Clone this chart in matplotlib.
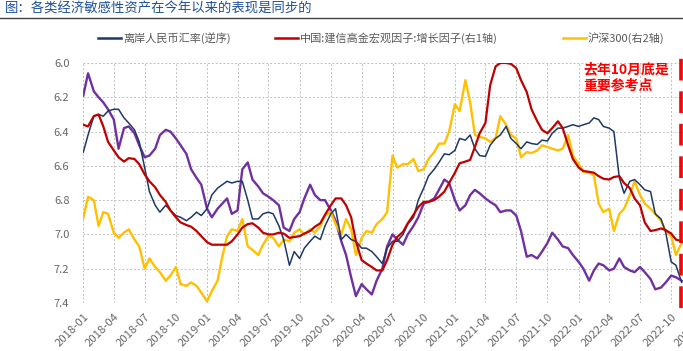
import numpy as np
import pandas as pd
import matplotlib
matplotlib.use("Agg")
import matplotlib.pyplot as plt
import matplotlib.dates as mdates
from matplotlib.lines import Line2D
from matplotlib.ticker import FormatStrFormatter

plt.rcParams["font.family"] = ["Noto Sans CJK SC", "DejaVu Sans"]

TITLE = "图：各类经济敏感性资产在今年以来的表现是同步的"
LABELS = ["离岸人民币汇率(逆序)", "中国:建信高金宏观因子:增长因子(右1轴)", "沪深300(右2轴)"]
NOTE = "去年10月底是\n重要参考点"

# values, half-monthly, in left-axis units
cnh = [6.52, 6.42, 6.31, 6.30, 6.31, 6.28, 6.27, 6.27, 6.32, 6.35, 6.39, 6.46,
       6.61, 6.75, 6.83, 6.87, 6.83, 6.86, 6.89, 6.90, 6.92, 6.90, 6.87, 6.89,
       6.85, 6.77, 6.73, 6.71, 6.69, 6.70, 6.69, 6.69, 6.80, 6.91, 6.91, 6.88,
       6.87, 6.88, 6.95, 7.03, 7.18, 7.10, 7.14, 7.08, 7.04, 7.01, 7.03, 6.95,
       6.88, 6.85, 7.03, 7.00, 7.03, 7.04, 7.08, 7.08, 7.10, 7.13, 7.17, 7.08,
       7.04, 7.04, 7.00, 6.94, 6.90, 6.80, 6.73, 6.66, 6.62, 6.58, 6.53, 6.535,
       6.51, 6.44, 6.45, 6.42, 6.50, 6.54, 6.545, 6.48, 6.44, 6.42, 6.37, 6.44,
       6.47, 6.50, 6.46, 6.47, 6.475, 6.45, 6.455, 6.41, 6.38, 6.38, 6.37, 6.36,
       6.37, 6.36, 6.35, 6.32, 6.33, 6.37, 6.38, 6.40, 6.67, 6.76, 6.69, 6.68,
       6.71, 6.74, 6.75, 6.88, 6.91, 6.99, 7.16, 7.18, 7.28]

growth = [6.36, 6.37, 6.31, 6.30, 6.37, 6.46, 6.51, 6.55, 6.575, 6.555, 6.56, 6.59,
          6.65, 6.69, 6.725, 6.77, 6.81, 6.86, 6.90, 6.93, 6.945, 6.955, 6.98, 7.01,
          7.045, 7.06, 7.06, 7.06, 7.06, 7.04, 7.00, 6.96, 6.94, 6.935, 6.96, 6.99,
          7.00, 7.00, 6.99, 6.995, 7.02, 7.015, 7.01, 6.995, 6.98, 6.955, 6.935, 6.885,
          6.83, 6.79, 6.79, 6.83, 6.90, 7.04, 7.15, 7.17, 7.19, 7.21, 7.21, 7.15,
          7.06, 7.015, 6.985, 6.935, 6.885, 6.84, 6.81, 6.81, 6.80, 6.78, 6.75, 6.70,
          6.64, 6.585, 6.575, 6.565, 6.49, 6.41, 6.35, 6.13, 6.02, 6.00, 6.00, 6.005,
          6.03, 6.10, 6.17, 6.27, 6.34, 6.39, 6.41, 6.38, 6.34, 6.38, 6.48, 6.56,
          6.61, 6.63, 6.635, 6.64, 6.66, 6.675, 6.68, 6.665, 6.66, 6.70, 6.73, 6.79,
          6.83, 6.93, 6.98, 6.975, 6.965, 6.975, 6.995, 7.03, 7.04]

csi300 = [6.905, 6.78, 6.80, 6.95, 6.87, 6.88, 6.99, 7.02, 6.99, 6.97, 7.03, 7.07,
          7.20, 7.14, 7.19, 7.22, 7.27, 7.24, 7.19, 7.29, 7.30, 7.28, 7.30, 7.34,
          7.39, 7.33, 7.27, 7.13, 7.01, 6.97, 6.98, 6.91, 7.07, 7.09, 7.12, 7.06,
          7.01, 7.02, 7.07, 7.03, 7.04, 6.99, 6.97, 7.00, 6.97, 6.99, 6.95, 6.89,
          6.87, 6.94, 7.00, 6.91, 6.97, 7.12, 7.02, 6.98, 6.99, 6.94, 6.91, 6.87,
          6.54, 6.61, 6.59, 6.59, 6.56, 6.63, 6.62, 6.56, 6.52, 6.47, 6.47, 6.40,
          6.24, 6.28, 6.10, 6.23, 6.42, 6.43, 6.44, 6.46, 6.44, 6.31, 6.36, 6.42,
          6.44, 6.55, 6.52, 6.525, 6.51, 6.48, 6.49, 6.50, 6.51, 6.50, 6.42, 6.54,
          6.59, 6.635, 6.64, 6.655, 6.82, 6.87, 6.85, 6.98, 6.88, 6.85, 6.77, 6.69,
          6.77, 6.82, 6.85, 6.88, 6.92, 6.98, 7.01, 7.12, 7.05]

purple = [6.19, 6.06, 6.165, 6.20, 6.23, 6.27, 6.33, 6.50, 6.38, 6.37, 6.41, 6.48,
          6.55, 6.54, 6.50, 6.42, 6.39, 6.40, 6.44, 6.48, 6.53, 6.62, 6.67, 6.71,
          6.85, 6.90, 6.85, 6.82, 6.79, 6.88, 6.86, 6.62, 6.58, 6.68, 6.72, 6.76,
          6.78, 6.80, 6.83, 6.96, 6.98, 6.91, 6.87, 6.79, 6.71, 6.77, 6.80, 6.80,
          6.86, 6.92, 7.04, 7.12, 7.25, 7.36, 7.29, 7.32, 7.35, 7.27, 7.20, 7.07,
          7.00, 7.03, 7.06, 7.00, 6.95, 6.90, 6.82, 6.81, 6.79, 6.74, 6.68, 6.70,
          6.80, 6.86, 6.83, 6.77, 6.74, 6.76, 6.79, 6.81, 6.83, 6.87, 6.86, 6.86,
          6.89, 6.98, 7.13, 7.12, 7.14, 7.10, 7.05, 6.99, 7.03, 7.07, 7.08, 7.12,
          7.16, 7.20, 7.27, 7.21, 7.17, 7.18, 7.21, 7.20, 7.14, 7.19, 7.21, 7.22,
          7.19, 7.22, 7.26, 7.32, 7.31, 7.28, 7.24, 7.25, 7.27]

dates = pd.date_range("2018-01-01", periods=len(cnh), freq="SMS")
ref_date = pd.Timestamp("2022-10-31")

W, H = 683, 351
fig = plt.figure(figsize=(W / 100, H / 100), dpi=100)
ax = fig.add_axes([83.3 / W, 48 / H, 629.6 / W, 240 / H])

ax.plot(dates, purple, color="#7030A0", lw=1.7)
ax.plot(dates, csi300, color="#FFC000", lw=1.7)
ax.plot(dates, cnh, color="#1F3864", lw=1.1)
ax.plot(dates, growth, color="#C00000", lw=1.6)

ax.set_xlim(pd.Timestamp("2018-01-01"), pd.Timestamp("2023-02-01"))
ax.set_ylim(7.4, 6.0)
ax.set_yticks(np.arange(6.0, 7.41, 0.2))
ax.yaxis.set_major_formatter(FormatStrFormatter("%.1f"))
ax.xaxis.set_major_locator(mdates.MonthLocator(bymonth=[1, 4, 7, 10]))
ax.xaxis.set_major_formatter(mdates.DateFormatter("%Y-%m"))
ax.grid(True, color="#BFBFBF", linestyle=(0, (2, 2)), lw=0.7)
ax.set_axisbelow(True)
for s in ax.spines.values():
    s.set_visible(False)
ax.tick_params(length=0, colors="#666666", labelsize=8)
ax.tick_params(axis="y", pad=10)
ax.tick_params(axis="x", pad=6, labelsize=8.2)
plt.setp(ax.get_xticklabels(), rotation=45, ha="right", rotation_mode="anchor")

# reference line: end of last October
ax.axvline(ref_date, ymin=-0.02, ymax=1.04, clip_on=False, color="#FF0000",
           lw=2.6, linestyle=(0, (6, 3)))
fig.text(583 / W, 1 - 62 / H, NOTE, ha="left", va="top", color="#FF0000",
         fontsize=10, fontweight="bold", linespacing=1.25)

# legend drawn by hand to keep the wide spacing
ly = 1 - 38 / H
for x0, lab, col in zip([98, 275, 563], LABELS, ["#1F3864", "#C00000", "#FFC000"]):
    fig.add_artist(Line2D([x0 / W, (x0 + 23) / W], [ly, ly], color=col, lw=1.8,
                          transform=fig.transFigure))
    fig.text((x0 + 25) / W, ly, lab, va="center", ha="left", fontsize=8, color="#595959")

# title + rule
fig.text(5 / W, 1 - 9 / H, TITLE, va="center", ha="left", fontsize=9.6, color="#1E5096")
fig.add_artist(Line2D([0, 1], [1 - 18 / H] * 2, color="#404040", lw=1,
                      transform=fig.transFigure))

fig.savefig("out.png", dpi=100)
